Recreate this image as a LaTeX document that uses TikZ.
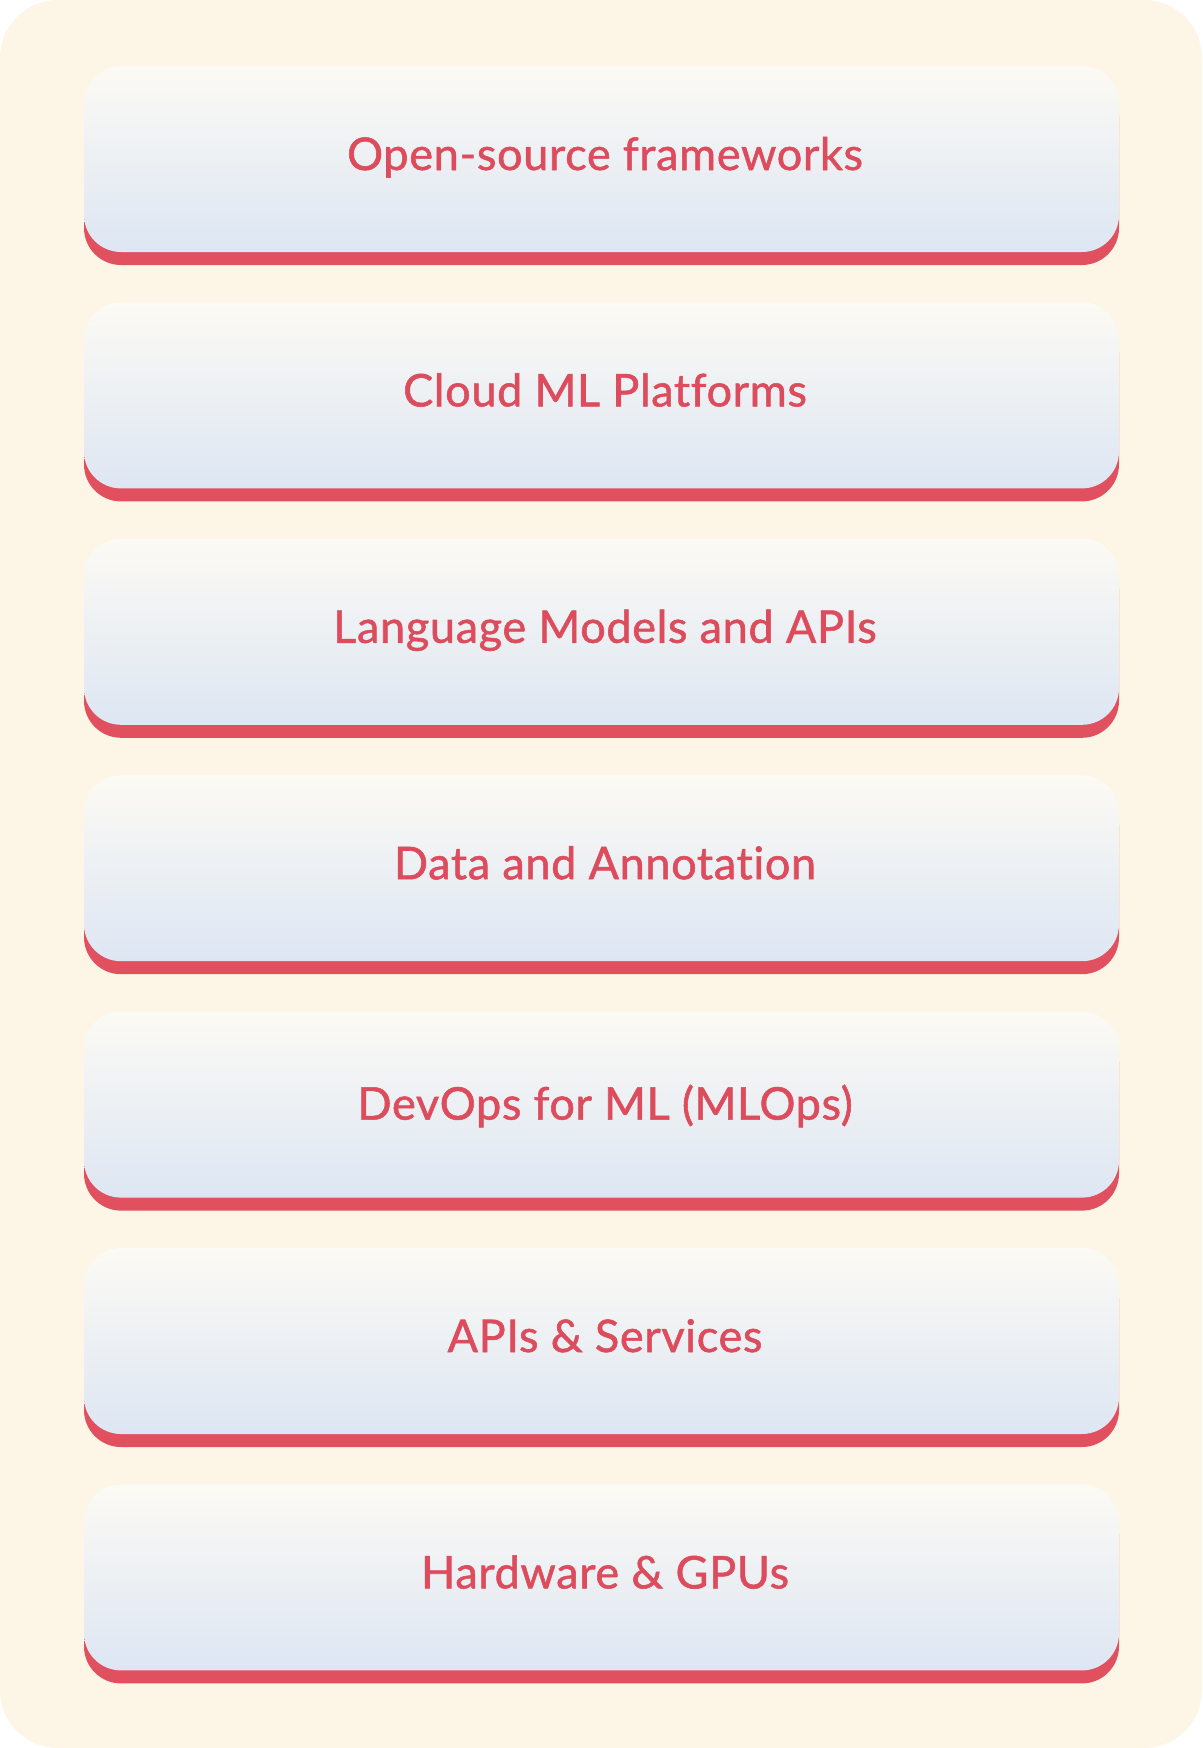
\documentclass[tikz,border=0pt]{standalone}
\usepackage{fontspec}
\setmainfont{Lato}[FakeBold=1.2, LetterSpace=1.5, Ligatures=NoCommon]
\definecolor{bgcream}{HTML}{FDF6E7}
\definecolor{shadowred}{HTML}{E0505E}
\definecolor{txtred}{HTML}{DD4C5C}
\definecolor{boxtop}{HTML}{FCFAF4}
\definecolor{boxbot}{HTML}{DDE6F3}
\tikzset{
  redbase/.style={fill=shadowred, rounded corners=37pt},
  facebox/.style={top color=boxtop, bottom color=boxbot, rounded corners=37pt},
  label/.style={anchor=base, text=txtred, inner sep=0pt, font=\fontsize{45}{52}\selectfont}
}
\begin{document}
\begin{tikzpicture}[x=1pt,y=-1pt]
\useasboundingbox (0,0) rectangle (1202,1748);
\fill[white] (0,0) rectangle (1202,1748);
\fill[bgcream, rounded corners=58pt] (0,0) rectangle (1202,1748);
\foreach \i/\t/\dy in {0/Open-source frameworks/0, 1/Cloud ML Platforms/0, 2/Language Models and APIs/0, 3/Data and Annotation/0, 4/DevOps for ML (MLOps)/4, 5/APIs \& Services/0, 6/Hardware \& GPUs/0} {
  \pgfmathsetmacro\tp{66+236.4*\i}
  \fill[redbase] (84,\tp+13) rectangle (1119,\tp+199);
  \shade[facebox] (84,\tp) rectangle (1119,\tp+186);
  \node[label] (lab\i) at (605,\tp+104+\dy) {\t};
}
\end{tikzpicture}
\end{document}
